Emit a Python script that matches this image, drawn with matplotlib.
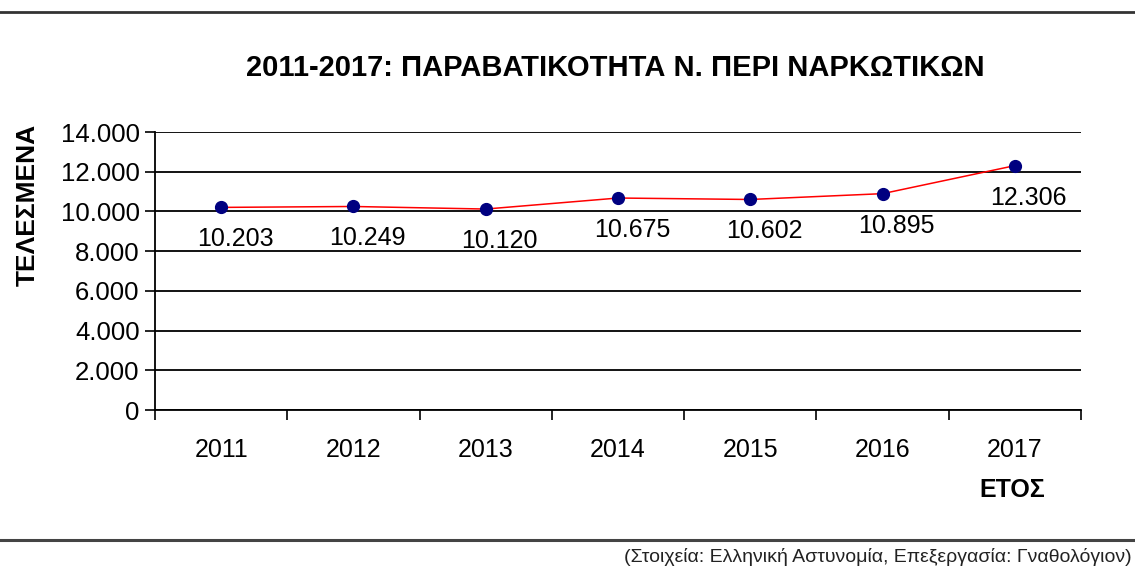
import matplotlib
matplotlib.use("Agg")
import matplotlib.pyplot as plt
from matplotlib.lines import Line2D

years = ["2011", "2012", "2013", "2014", "2015", "2016", "2017"]
values = [10203, 10249, 10120, 10675, 10602, 10895, 12306]
value_labels = ["10.203", "10.249", "10.120", "10.675", "10.602", "10.895", "12.306"]
yticks = [0, 2000, 4000, 6000, 8000, 10000, 12000, 14000]
ytick_labels = ["0", "2.000", "4.000", "6.000", "8.000", "10.000", "12.000", "14.000"]

title = "2011-2017: ΠΑΡΑΒΑΤΙΚΟΤΗΤΑ Ν. ΠΕΡΙ ΝΑΡΚΩΤΙΚΩΝ"
ylabel = "ΤΕΛΕΣΜΕΝΑ"
xlabel = "ΕΤΟΣ"
source = "(Στοιχεία: Ελληνική Αστυνομία, Επεξεργασία: Γναθολόγιον)"

plt.rcParams['font.family'] = ['Liberation Sans', 'DejaVu Sans']

W, H = 1135, 567
fig = plt.figure(figsize=(W / 100, H / 100), dpi=100)
fig.patch.set_facecolor("white")

def fx(px):
    return px / W

def fy(py):
    return 1 - py / H

ax = fig.add_axes([fx(155), fy(410), fx(1081) - fx(155), fy(132) - fy(410)])
x = list(range(len(years)))
ax.plot(x, values, color="#ff0000", lw=1.1, zorder=3,
        marker="o", markersize=8.5, markerfacecolor="#000080",
        markeredgecolor="#000080")

for xi, v, lab in zip(x, values, value_labels):
    ax.annotate(lab, (xi, v), xytext=(10, -23), textcoords="offset points",
                ha="center", va="center", fontsize=18, color="black", zorder=4)

ax.set_xlim(-0.5, len(years) - 0.5)
ax.set_ylim(0, 14000)
ax.set_yticks(yticks)
ax.set_yticklabels(ytick_labels, fontsize=18.5)
ax.set_xticks(x)
ax.set_xticklabels(years, fontsize=18)
ax.tick_params(axis="x", which="major", length=0, pad=20)
ax.set_xticks([i - 0.5 for i in range(len(years) + 1)], minor=True)
ax.tick_params(axis="x", which="minor", length=7, width=1.2, direction="out", color="black")
ax.tick_params(axis="y", length=7, width=1.2, direction="out", color="black", pad=4)

ax.grid(axis="y", color="black", lw=1.3, zorder=1)
ax.set_axisbelow(True)
for s in ["top", "right"]:
    ax.spines[s].set_visible(False)
ax.spines["left"].set_linewidth(1.3)
ax.spines["bottom"].set_linewidth(1.3)

fig.text(fx(615), fy(68), title, ha="center", va="center", fontsize=21, fontweight="bold")
fig.text(fx(28), fy(205), ylabel, ha="center", va="center", rotation=90,
         fontsize=19, fontweight="bold")
fig.text(fx(1012), fy(490), xlabel, ha="center", va="center", fontsize=18, fontweight="bold")
fig.text(fx(1132), fy(557), source, ha="right", va="center", fontsize=14, color="#222222")

fig.add_artist(Line2D([0, 1], [fy(12), fy(12)], color="#333333", lw=2, transform=fig.transFigure))
fig.add_artist(Line2D([0, 1], [fy(540), fy(540)], color="#444444", lw=2.2, transform=fig.transFigure))

fig.savefig("out.png", dpi=100, facecolor="white")
